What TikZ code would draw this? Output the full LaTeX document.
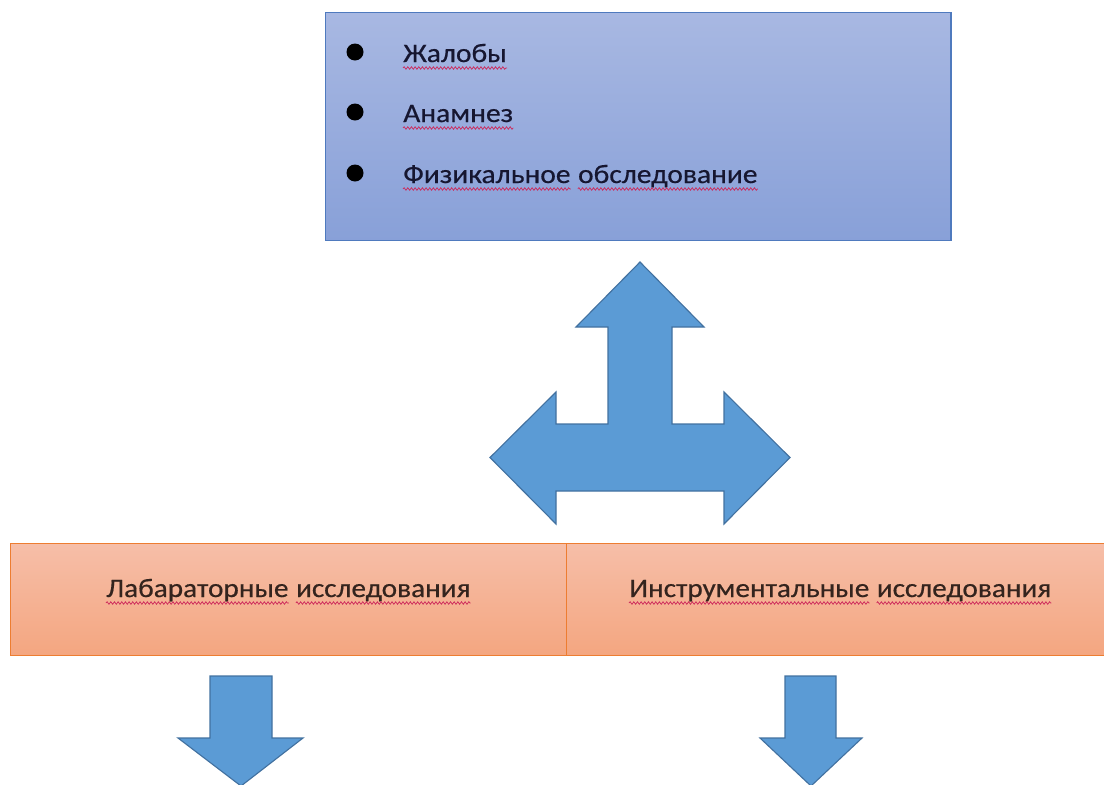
\documentclass[tikz,border=0pt]{standalone}
\usepackage{fontspec}
\setmainfont{Carlito}
\newfontfamily\listfont[FakeStretch=1.104, FakeBold=0.5]{Carlito}
\newfontfamily\barfont[FakeStretch=1.095, FakeBold=0.5]{Carlito}
\usetikzlibrary{positioning, calc, decorations.pathmorphing}

\definecolor{boxtop}{RGB}{168,184,226}
\definecolor{boxbot}{RGB}{136,160,216}
\definecolor{boxedge}{RGB}{79,122,190}
\definecolor{bartop}{RGB}{246,190,168}
\definecolor{barbot}{RGB}{244,166,128}
\definecolor{baredge}{RGB}{237,125,49}
\definecolor{arrowfill}{RGB}{91,155,213}
\definecolor{arrowedge}{RGB}{66,113,160}
\definecolor{inktext}{RGB}{22,22,48}
\definecolor{bartext}{RGB}{52,36,30}
\definecolor{squigred}{RGB}{205,40,90}

\tikzstyle{exambox} = [draw=boxedge, line width=1pt, top color=boxtop, bottom color=boxbot, anchor=north west, minimum width=15.625cm, minimum height=5.7cm, inner sep=0pt]
\tikzstyle{studybox} = [draw=baredge, line width=1pt, top color=bartop, bottom color=barbot, anchor=north west, minimum height=2.8cm, inner sep=0pt]
\tikzstyle{item} = [anchor=base west, text=inktext, font=\listfont\fontsize{19}{23}\selectfont, inner sep=0pt]
\tikzstyle{studytext} = [anchor=base west, text=bartext, font=\barfont\fontsize{19}{23}\selectfont, inner sep=0pt]
\tikzstyle{blockarrow} = [fill=arrowfill, draw=arrowedge, line width=0.8pt, line join=miter]
\tikzstyle{squiggle} = [draw=squigred, line width=0.5pt, decorate, decoration={snake, amplitude=0.9pt, segment length=2.6pt}]

\begin{document}
\begin{tikzpicture}[x=0.025cm, y=-0.025cm]
        \useasboundingbox (0,0) rectangle (1104,784);
        % top box with the list
        \node[exambox] (exam) at (325,12) {};
        \node[item] (complaints) at (403,62) {Жалобы};
        \node[item] (history) at (403,122) {Анамнез};
        \node[item] (physical) at (403,183) {Физикальное};
        \node[item] (physicalb) at ($(physical.base east)+(7,0)$) {обследование};
        \foreach \n in {complaints, history, physical}
            \fill (355,0 |- \n.base) ++(0,-10) circle (8.5);

        % three-way arrow
        \draw[blockarrow] (640,262) -- (704,327) -- (672,327) -- (672,424) -- (724,424) -- (724,392)
            -- (790,457.5) -- (724,524) -- (724,491) -- (556,491) -- (556,524) -- (490,457.5)
            -- (556,392) -- (556,424) -- (608,424) -- (608,327) -- (576,327) -- cycle;

        % bottom bar
        \node[studybox, minimum width=13.9cm] (lab) at (10,543) {};
        \node[studybox, minimum width=13.8cm] (instr) at (566,543) {};
        \node[studytext] (labtext) at (106,597) {Лабараторные};
        \node[studytext] (labtextb) at ($(labtext.base east)+(7,0)$) {исследования};
        \node[studytext] (instrtext) at (629,597) {Инструментальные};
        \node[studytext] (instrtextb) at ($(instrtext.base east)+(7,0)$) {исследования};

        % spelling squiggles
        \foreach \w in {complaints, history, physical, physicalb, labtext, labtextb, instrtext, instrtextb}
            \draw[squiggle] ($(\w.base west)+(0,6)$) -- ($(\w.base east)+(0,6)$);

        % down arrows
        \draw[blockarrow] (210,676) -- (272,676) -- (272,738) -- (303,738) -- (241,786) -- (178,738) -- (210,738) -- cycle;
        \draw[blockarrow] (785,676) -- (836,676) -- (836,738) -- (862,738) -- (811,786) -- (760,738) -- (785,738) -- cycle;
\end{tikzpicture}
\end{document}
